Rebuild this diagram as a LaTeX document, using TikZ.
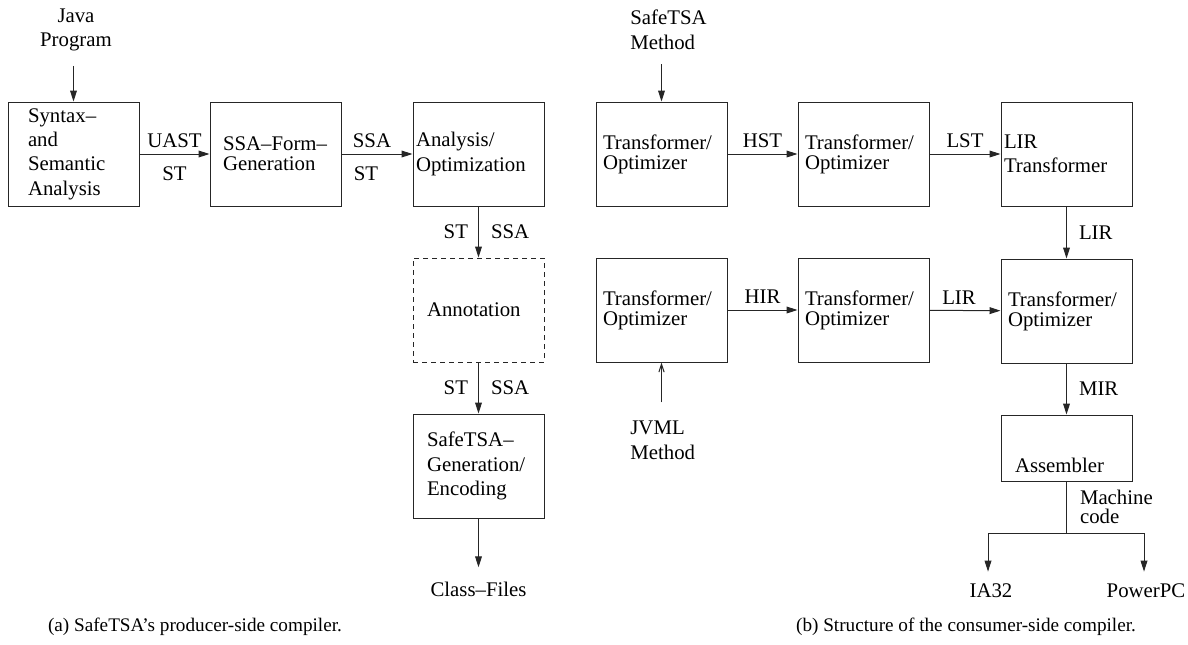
\documentclass[tikz,border=0pt]{standalone}
\usepackage{fontspec}
\setmainfont{Liberation Serif}
\usetikzlibrary{arrows.meta}
\usetikzlibrary{positioning}

\tikzset{
  stage/.style={draw=black!85, line width=0.5pt, minimum width=65.5pt,
    minimum height=52pt, inner xsep=3.5pt, inner ysep=1pt, text width=58.5pt,
    align=left, font=\fontsize{10.4}{10}\selectfont},
  wide/.style={font=\fontsize{10.4}{12.2}\selectfont},
  txt/.style={inner sep=1pt, font=\fontsize{10.4}{12.4}\selectfont},
  flow/.style={draw=black!85, line width=0.5pt, -{Triangle[length=5.5pt,width=3.4pt]}},
  inflow/.style={draw=black!85, line width=0.5pt, -{Straight Barb[length=4pt,width=2.6pt]}},
  caption/.style={inner sep=0pt, font=\fontsize{9.6}{11}\selectfont}
}

\begin{document}
\begin{tikzpicture}[x=0.5pt, y=-0.5pt]
\useasboundingbox (0,0) rectangle (1188,644);

% (a) producer side
\node[txt, align=center] (java) at (76,30) {Java\\Program};
\node[stage, wide, inner xsep=10pt, text width=45.5pt] (syn) at (73.5,154)
  {Syntax–\\and\\Semantic\\Analysis};
\node[stage, inner xsep=6.5pt, text width=52.5pt, right=35pt of syn] (ssa)
  {SSA–Form–\\Generation};
\node[stage, wide, inner xsep=1.5pt, text width=62.5pt, right=35.5pt of ssa] (ana)
  {Analysis/\\Optimization};
\node[stage, dash pattern=on 2.5pt off 2pt, inner xsep=7pt, text width=51.5pt,
  below=25.5pt of ana] (ann) {Annotation};
\node[stage, wide, inner xsep=7pt, text width=51.5pt, below=25.5pt of ann] (gen)
  {SafeTSA–\\Generation/\\Encoding};
\node[txt] (cls) at (gen |- 0,589) {Class–Files};

\draw[flow, shorten <=6pt] (java.south -| syn.north) -- (syn.north);
\draw[flow] (syn) -- node[txt, above=2pt] {UAST} node[txt, below=5pt] {ST} (ssa);
\draw[flow] (ssa) -- node[txt, above=2pt, xshift=-2.5pt] {SSA}
  node[txt, below=5pt, xshift=-5.5pt] {ST} (ana);
\draw[flow] (ana) -- node[txt, left=4pt] {ST} node[txt, right=5pt] {SSA} (ann);
\draw[flow] (ann) -- node[txt, left=4pt] {ST} node[txt, right=5pt] {SSA} (gen);
\draw[flow, shorten >=6pt] (gen) -- (cls);

% (b) consumer side
\node[txt, align=left, anchor=west] (tsa) at (628,30) {SafeTSA\\Method};
\node[stage] (t1) at (661.5,154) {Transformer/\\Optimizer};
\node[stage, right=35pt of t1] (t2) {Transformer/\\Optimizer};
\node[stage, wide, inner xsep=1.5pt, text width=62.5pt, right=35.5pt of t2] (lir)
  {LIR\\Transformer};
\node[stage, below=25.5pt of t1] (t4) {Transformer/\\Optimizer};
\node[stage, right=35pt of t4] (t5) {Transformer/\\Optimizer};
\node[stage, below=26pt of lir] (t6) {Transformer/\\Optimizer};
\node[stage, minimum height=33pt, inner xsep=7pt, text width=51.5pt,
  text height=26pt, text depth=2pt, below=25.5pt of t6] (asm) {Assembler};
\node[txt, align=left, anchor=west] (jvml) at (628,440) {JVML\\Method};
\coordinate (fork) at (asm |- 0,533);
\node[txt] (ia) at (991,591) {IA32};
\node[txt] (ppc) at (1146,591) {PowerPC};

\draw[flow, shorten <=6pt] (tsa.south -| t1.north) -- (t1.north);
\draw[flow] (t1) -- node[txt, above=2pt] {HST} (t2);
\draw[flow] (t2) -- node[txt, above=2pt] {LST} (lir);
\draw[flow] (lir) -- node[txt, right=5pt] {LIR} (t6);
\draw[flow] (t4) -- node[txt, above=2pt] {HIR} (t5);
\draw[flow] (t5) -- node[txt, above=2pt, xshift=-3pt] {LIR} (t6);
\draw[inflow, shorten <=8pt] (jvml.north -| t4.south) -- (t4.south);
\draw[flow] (t6) -- node[txt, right=5pt] {MIR} (asm);
\draw[draw=black!85, line width=0.5pt] (asm) -- node[txt, right=5.5pt, align=left,
  font=\fontsize{10.4}{9.6}\selectfont] {Machine\\code} (fork);
\draw[flow, shorten >=5pt] (fork) -| ([xshift=-1.5pt]ia.north);
\draw[flow, shorten >=5pt] (fork) -| ([xshift=-1pt]ppc.north);

% captions
\node[caption] (capa) at (195,627) {(a) SafeTSA's producer-side compiler.};
\node[caption] (capb) at (966,627) {(b) Structure of the consumer-side compiler.};
\end{tikzpicture}
\end{document}
